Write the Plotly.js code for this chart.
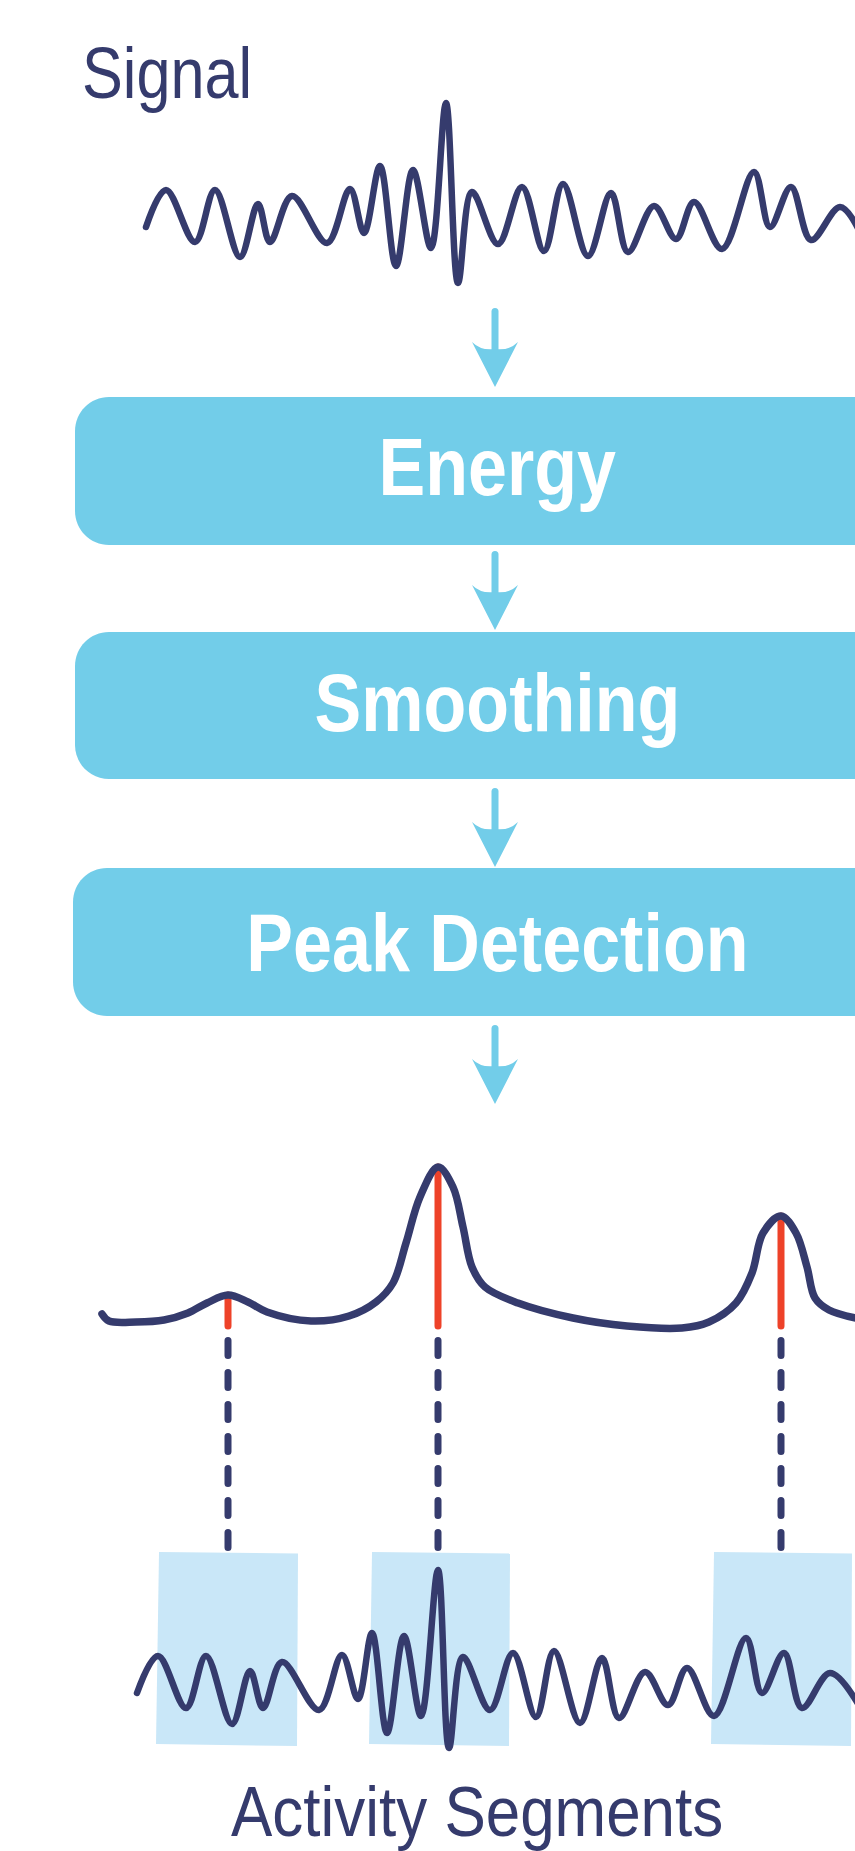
<!DOCTYPE html>
<html><head><meta charset="utf-8">
<script src="https://cdn.plot.ly/plotly-3.0.1.min.js"></script>
<style>
html,body{margin:0;padding:0;background:#fff;overflow:hidden;}
#chart .js-line{stroke-linecap:round;stroke-linejoin:round;}
#chart .shapelayer path{stroke-linecap:round;}
</style></head><body>
<div id="chart" style="width:855px;height:1851px;"></div>
<script>
// ---- data ----
const signalTime = [146,166,195,215,240,258,270,292,327,350,364,380,396,413,431,446,458,472,498,522,544,563,588,611,628,654,676,694,722,754,770,791,811,840,860];
const signalAmp  = [-9,28,-24,28,-39,14,-24,22,-25,29,-15,52,-48,48,-30,115,-65,26,-26,31,-33,34,-38,25,-34,12,-21,16,-31,46,-9,31,-22,11,-14];

const energyTime  = [102,109,136,164,188,207,228,248,267,311,349,376,393,406,420,438,453,463,472,485,518,573,627,682,709,736,752,763,781,796,807,815,829,860];
const energyValue = [12,5,4,6,13,23,31,24,14,5,10,24,43,83,129,159,139,99,59,39,23,8,0,-2,4,23,53,93,110,93,59,28,16,7];

const peakTime   = [228, 438, 781];
const peakEnergy = [31, 159, 110];

const segmentStart = [157, 370, 712];
const segmentEnd   = [298, 510, 852];

const segSignalTime = [137,158,186,206,232,250,263,282,319,342,358,372,387,404,421,438,449,463,490,513,536,554,580,602,619,645,668,687,714,746,762,784,802,830,860];
const segSignalAmp  = [-3,34,-18,34,-34,19,-18,28,-20,35,-9,57,-43,54,-26,120,-58,33,-20,37,-27,39,-33,32,-28,18,-15,22,-26,52,-3,37,-18,17,-17];

const stageLabels = ["Energy", "Smoothing", "Peak Detection"];
const inputLabel  = "Signal";
const outputLabel = "Activity Segments";

// ---- styling / layout ----
const W = 855, H = 1851;
const NAVY = "#353b6d", BOX = "#72cde9", SEG = "#c9e7f8", RED = "#ee4229";
const FONT = "Liberation Sans, Arial, Helvetica, sans-serif";
const P = py => 1 - py / H;   // pixel row -> paper fraction

const stageBoxes = [[75,397,920,545],[75,632,920,779],[73,868,920,1016]];
const stageTextY = [467, 703, 943];
const arrowTops = [308, 551, 788, 1025];
const arrowX = 495;

function rr(x0,y0,x1,y1,r){
  const k = 0.5523*r;
  const pt = (x,y)=> x + "," + P(y);
  return "M" + pt(x0+r,y0) + " L" + pt(x1-r,y0) +
    " C" + pt(x1-r+k,y0) + " " + pt(x1,y0+r-k) + " " + pt(x1,y0+r) +
    " L" + pt(x1,y1-r) +
    " C" + pt(x1,y1-r+k) + " " + pt(x1-r+k,y1) + " " + pt(x1-r,y1) +
    " L" + pt(x0+r,y1) +
    " C" + pt(x0+r-k,y1) + " " + pt(x0,y1-r+k) + " " + pt(x0,y1-r) +
    " L" + pt(x0,y0+r) +
    " C" + pt(x0,y0+r-k) + " " + pt(x0+r-k,y0) + " " + pt(x0+r,y0) + " Z";
}

const shapes = [];
// segment rectangles (below traces)
for (let i = 0; i < segmentStart.length; i++) {
  const a = segmentStart[i], b = segmentEnd[i];
  const pt = (x,y)=> x + "," + P(y);
  shapes.push({type:"path", xref:"x", yref:"paper", layer:"below",
    path: "M" + pt(a+2,1552) + " L" + pt(b,1553.5) + " L" + pt(b-1,1746) + " L" + pt(a-1,1744) + " Z",
    fillcolor: SEG, line:{width:0}});
}
// stage boxes
stageBoxes.forEach(b => shapes.push({type:"path", xref:"x", yref:"paper",
  path: rr(b[0],b[1],b[2],b[3],34), fillcolor: BOX, line:{width:0}}));
// arrows
arrowTops.forEach(T => {
  shapes.push({type:"line", xref:"x", yref:"paper", x0:arrowX, x1:arrowX, y0:P(T+3.5), y1:P(T+44),
    line:{color:BOX, width:7}});
  const pt = (x,y)=> x + "," + P(y);
  shapes.push({type:"path", xref:"x", yref:"paper",
    path: "M" + pt(arrowX, T+79) + " L" + pt(arrowX-23, T+34) + " Q" + pt(arrowX-14, T+43) + " " + pt(arrowX, T+41) +
          " Q" + pt(arrowX+14, T+43) + " " + pt(arrowX+23, T+34) + " Z",
    fillcolor: BOX, line:{width:0}});
});
// dashed connectors from peaks to segments
peakTime.forEach(t => shapes.push({type:"line", xref:"x", yref:"paper", x0:t, x1:t, y0:P(1340.5), y1:P(1548.5),
  line:{color:NAVY, width:7, dash:"15px,17px"}}));

// red peak markers
const redX = [], redY = [];
peakTime.forEach((t,i)=>{ redX.push(t,t,null); redY.push(peakEnergy[i],0,null); });

const traces = [
  {x: signalTime, y: signalAmp, yaxis:"y", mode:"lines", line:{color:NAVY, width:6.5, shape:"spline", smoothing:1}, hoverinfo:"skip"},
  {x: redX, y: redY, yaxis:"y2", mode:"lines", line:{color:RED, width:7}, hoverinfo:"skip", connectgaps:false},
  {x: energyTime, y: energyValue, yaxis:"y2", mode:"lines", line:{color:NAVY, width:7.5, shape:"spline", smoothing:1}, hoverinfo:"skip"},
  {x: segSignalTime, y: segSignalAmp, yaxis:"y3", mode:"lines", line:{color:NAVY, width:6.5, shape:"spline", smoothing:1}, hoverinfo:"skip"}
];

// horizontal condensing of each label (the reference uses a narrow face)
const labelScale = [0.85, 0.885, 0.865, 0.865, 0.865];
const labelOrigin = ["left center", "center", "center", "center", "center"];

const annotations = [
  {text: inputLabel, xref:"x", yref:"paper", x:80, y:P(73), xanchor:"left", yanchor:"middle", showarrow:false,
   font:{family:FONT, size:72, color:NAVY}},
  {text: outputLabel, xref:"x", yref:"paper", x:477, y:P(1812), xanchor:"center", yanchor:"middle", showarrow:false,
   font:{family:FONT, size:70, color:NAVY}}
];
stageLabels.forEach((s,i)=> annotations.push({text:"<b>"+s+"</b>", xref:"x", yref:"paper", x:497, y:P(stageTextY[i]),
  xanchor:"center", yanchor:"middle", showarrow:false,
  font:{family:FONT, size:81, color:"#ffffff"}}));

const layout = {
  width: W, height: H, margin:{l:0,r:0,t:0,b:0,pad:0},
  paper_bgcolor:"#ffffff", plot_bgcolor:"rgba(0,0,0,0)", showlegend:false,
  xaxis:{range:[0,W], visible:false, fixedrange:true},
  yaxis:{domain:[P(358),P(78)], range:[-140,140], visible:false, fixedrange:true},
  yaxis2:{domain:[P(1346),P(1126)], range:[-20,200], visible:false, fixedrange:true, anchor:"x"},
  yaxis3:{domain:[P(1850),P(1530)], range:[-160,160], visible:false, fixedrange:true, anchor:"x"},
  shapes: shapes, annotations: annotations
};
Plotly.newPlot("chart", traces, layout, {displayModeBar:false, staticPlot:true}).then(gd => {
  annotations.forEach((a, i) => {
    const t = gd.querySelector('g.annotation[data-index="' + i + '"] text.annotation-text');
    if (!t) return;
    t.style.transformBox = "fill-box";
    t.style.transformOrigin = labelOrigin[i];
    t.style.transform = "scaleX(" + labelScale[i] + ")";
  });
});
</script></body></html>
